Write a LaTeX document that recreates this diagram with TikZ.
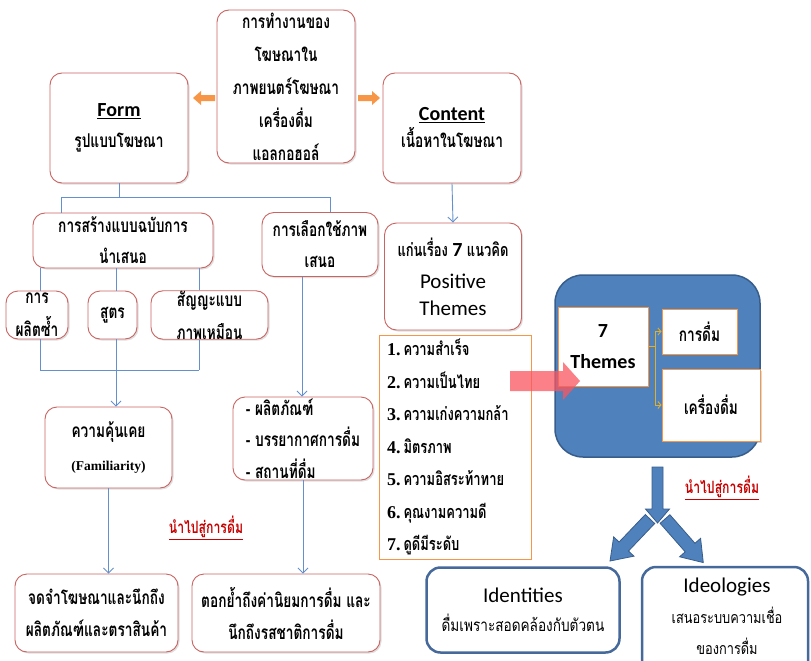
\documentclass[tikz,border=0pt]{standalone}
\usepackage{fontspec}
\usetikzlibrary{arrows.meta,shadows,calc}
\newfontfamily\thaif[Script=Thai,FakeStretch=0.8]{Loma}
\newfontfamily\thaib[Script=Thai,FakeStretch=0.72]{Loma}
\newfontfamily\carl{Carlito}
\newfontfamily\lser{Liberation Serif}
\newcommand\ThB[2]{\thaib\bfseries\fontsize{#1}{#2}\selectfont}
\newcommand\ThR[2]{\thaif\fontsize{#1}{#2}\selectfont}
\newcommand\CaR[2]{\carl\fontsize{#1}{#2}\selectfont}
\definecolor{boxred}{RGB}{200,100,97}
\definecolor{connc}{RGB}{100,145,205}
\definecolor{orng}{RGB}{247,150,70}
\definecolor{blu}{RGB}{79,129,189}
\definecolor{bluedge}{RGB}{56,93,138}
\definecolor{goldc}{RGB}{225,175,40}
\definecolor{redtxt}{RGB}{200,0,0}
\definecolor{navyb}{RGB}{70,105,155}
\definecolor{pinkc}{RGB}{250,85,95}
\tikzset{
  rbox/.style={draw=boxred, line width=0.9pt, fill=white, rounded corners=12pt,
    align=center, inner sep=0pt,
    drop shadow={shadow xshift=1.5pt,shadow yshift=-1.5pt,opacity=0.25}},
  obox/.style={draw=orng, line width=1pt, fill=white, inner sep=0pt},
  nbox/.style={draw=navyb, line width=2.5pt, fill=white, rounded corners=14pt,
    align=center, inner sep=0pt},
  conn/.style={draw=connc, line width=0.9pt},
  carr/.style={conn, -{Straight Barb[length=5pt,width=10pt]}},
  ybr/.style={draw=goldc, line width=0.9pt},
  yarr/.style={ybr, -{Straight Barb[length=3pt,width=7pt]}},
  barrow/.style={fill=blu, draw=bluedge, line width=0.8pt},
  lead/.style={text=redtxt, font=\ThB{17}{18}},
}
\begin{document}
\begin{tikzpicture}[x=1pt,y=-1pt]
\useasboundingbox (0,0) rectangle (811,661);

% ---- top level boxes
\node[rbox, minimum width=138pt, minimum height=153pt, font=\ThB{19}{33}] (top) at (286,86.5)
  {การทำงานของ\\โฆษณาใน\\ภาพยนตร์โฆษณา\\เครื่องดื่ม\\แอลกอฮอล์};
\node[rbox, minimum width=138pt, minimum height=110pt, font=\ThB{19}{31}] (form) at (119,128)
  {{\CaR{20}{31}\underline{Form}}\\รูปแบบโฆษณา};
\node[rbox, minimum width=138pt, minimum height=110pt, font=\ThB{19}{27}] (content) at (452,128)
  {{\CaR{20}{27}\underline{Content}}\\เนื้อหาในโฆษณา};

% orange block arrows
\fill[orng] (215,95) -- (201,95) -- (201,91) -- (193,98) -- (201,105) -- (201,101) -- (215,101) -- cycle;
\fill[orng] (358,95) -- (372,95) -- (372,91) -- (380,98) -- (372,105) -- (372,101) -- (358,101) -- cycle;

% ---- form branch
\node[rbox, minimum width=180pt, minimum height=55pt, font=\ThB{19}{31}] (create) at (123,240.5)
  {การสร้างแบบฉบับการ\\นำเสนอ};
\node[rbox, minimum width=116pt, minimum height=64pt, font=\ThB{19}{31}] (choose) at (320,244.5)
  {การเลือกใช้ภาพ\\เสนอ};
\node[rbox, minimum width=62pt, minimum height=48pt, font=\ThB{19}{33}] (rep) at (37,315)
  {การ\\ผลิตซ้ำ};
\node[rbox, minimum width=49pt, minimum height=48pt, font=\ThB{19}{33}] (formula) at (112.5,315)
  {สูตร};
\node[rbox, minimum width=117pt, minimum height=48pt, font=\ThB{19}{33}] (sign) at (209.5,315)
  {สัญญะแบบ\\ภาพเหมือน};
\node[rbox, minimum width=127pt, minimum height=81pt, font=\ThB{19}{33}] (fam) at (108.5,447.5)
  {ความคุ้นเคย\\{\lser\bfseries\fontsize{13.5}{33}\selectfont (Familiarity)}};
\node[rbox, minimum width=140pt, minimum height=83pt, align=left, font=\ThB{19}{31.5}] (bullets) at (303,438.5)
  {- ผลิตภัณฑ์\\- บรรยากาศการดื่ม\\- สถานที่ดื่ม};
\node[rbox, minimum width=163pt, minimum height=78pt, font=\ThB{19}{32}] (bl) at (96.5,613)
  {จดจำโฆษณาและนึกถึง\\ผลิตภัณฑ์และตราสินค้า};
\node[rbox, minimum width=188pt, minimum height=78pt, font=\ThB{19}{32}] (bm) at (286,613)
  {ตอกย้ำถึงค่านิยมการดื่ม และ\\นึกถึงรสชาติการดื่ม};
\node[lead] (lead1) at (206,528) {\underline{นำไปสู่การดื่ม}};

% ---- content branch
\node[rbox, minimum width=137pt, minimum height=107pt, font=\CaR{21}{27}] (pos) at (453,276.5)
  {{\ThB{18}{27}แก่นเรื่อง {\carl\bfseries\fontsize{20}{27}\selectfont 7} แนวคิด}\\[5pt]Positive\\Themes};
\node[obox, minimum width=152pt, minimum height=224pt, text width=136pt, align=left, font=\ThB{18}{32.5}] (list) at (455,447)
  {{\lser 1.}\,ความสำเร็จ\\{\lser 2.}\,ความเป็นไทย\\{\lser 3.}\,ความเก่งความกล้า\\{\lser 4.}\,มิตรภาพ\\{\lser 5.}\,ความอิสระท้าทาย\\{\lser 6.}\,คุณงามความดี\\{\lser 7.}\,ดูดีมีระดับ};

% blue panel
\node[draw=bluedge, fill=blu, line width=1.5pt, rounded corners=28pt, minimum width=205pt, minimum height=182pt] (panel) at (657.5,366) {};
\node[obox, minimum width=90pt, minimum height=79pt, align=center, font=\carl\bfseries\fontsize{20}{31}\selectfont,
  drop shadow={shadow xshift=1.5pt,shadow yshift=-1.5pt,opacity=0.3}] (t7) at (603,346.5) {7\\Themes};
\node[obox, minimum width=75pt, minimum height=45pt, font=\ThB{19}{20},
  drop shadow={shadow xshift=1.5pt,shadow yshift=-1.5pt,opacity=0.3}] (drink) at (699.5,331.5) {การดื่ม};
\node[obox, minimum width=98pt, minimum height=72pt, font=\ThB{19}{20},
  drop shadow={shadow xshift=1.5pt,shadow yshift=-1.5pt,opacity=0.3}] (bev) at (711,405) {เครื่องดื่ม};
\coordinate (yb) at (655,346.5);
\draw[ybr] (t7.east) -- (yb);
\draw[ybr] (yb |- drink.west) -- (yb |- bev.west);
\draw[yarr] (yb |- drink.west) -- (drink.west);
\draw[yarr] (yb |- bev.west) -- (bev.west);

% pink arrow
\fill[pinkc, opacity=0.75] (510,371) -- (563,371) -- (563,362) -- (580,381) -- (563,400) -- (563,391) -- (510,391) -- cycle;

% blue block arrows
\begin{scope}[shift={(657.5,467)}, rotate=-90]
  \draw[barrow] (0,-5.5) -- (42,-5.5) -- (42,-12) -- (56,0) -- (42,12) -- (42,5.5) -- (0,5.5) -- cycle;
\end{scope}
\begin{scope}[shift={(650,519)}, rotate=-133.6]
  \draw[barrow] (0,-6.5) -- (38,-6.5) -- (38,-14) -- (58,0) -- (38,14) -- (38,6.5) -- (0,6.5) -- cycle;
\end{scope}
\begin{scope}[shift={(665,519)}, rotate=-48.7]
  \draw[barrow] (0,-6.5) -- (38,-6.5) -- (38,-14) -- (58,0) -- (38,14) -- (38,6.5) -- (0,6.5) -- cycle;
\end{scope}
\node[lead] (lead2) at (722,488) {\underline{นำไปสู่การดื่ม}};

\node[nbox, minimum width=193pt, minimum height=85pt, font=\ThR{17}{29}] (ident) at (523,610)
  {{\CaR{21}{29}Identities}\\ดื่มเพราะสอดคล้องกับตัวตน};
\node[nbox, minimum width=166pt, minimum height=110pt] (ideo) at (725,622) {};
\node[align=center, font=\ThR{16}{31}] (ideotxt) at (727,616)
  {{\CaR{21}{31}Ideologies}\\เสนอระบบความเชื่อ\\ของการดื่ม};

% ---- connectors
\coordinate (hL) at (61,197);
\coordinate (hR) at (330,197);
\coordinate (xa) at (40,370);
\coordinate (xb) at (116,370);
\coordinate (xc) at (199,370);
\coordinate (xd) at (302,0);
\draw[conn] (form.south) -- (form.south |- hL);
\draw[conn] (hL) -- (hR);
\draw[conn] (hL) -- (hL |- create.north);
\draw[conn] (hR) -- (hR |- choose.north);
\draw[conn] (create.south -| xa) -- (rep.north -| xa);
\draw[conn] (create.south -| xb) -- (formula.north -| xb);
\draw[conn] (create.south -| xc) -- (sign.north -| xc);
\draw[conn] (rep.south -| xa) -- (xa);
\draw[conn] (formula.south -| xb) -- (xb);
\draw[conn] (sign.south -| xc) -- (xc);
\draw[conn] (xa) -- (xc);
\draw[carr] (xb) -- (fam.north -| xb);
\draw[carr] (fam.south) -- (bl.north -| fam.south);
\draw[carr] (choose.south -| xd) -- (bullets.north -| xd);
\draw[carr] (bullets.south) -- (bm.north -| bullets.south);
\draw[carr] (content.south) -- (pos.north);
\end{tikzpicture}
\end{document}
